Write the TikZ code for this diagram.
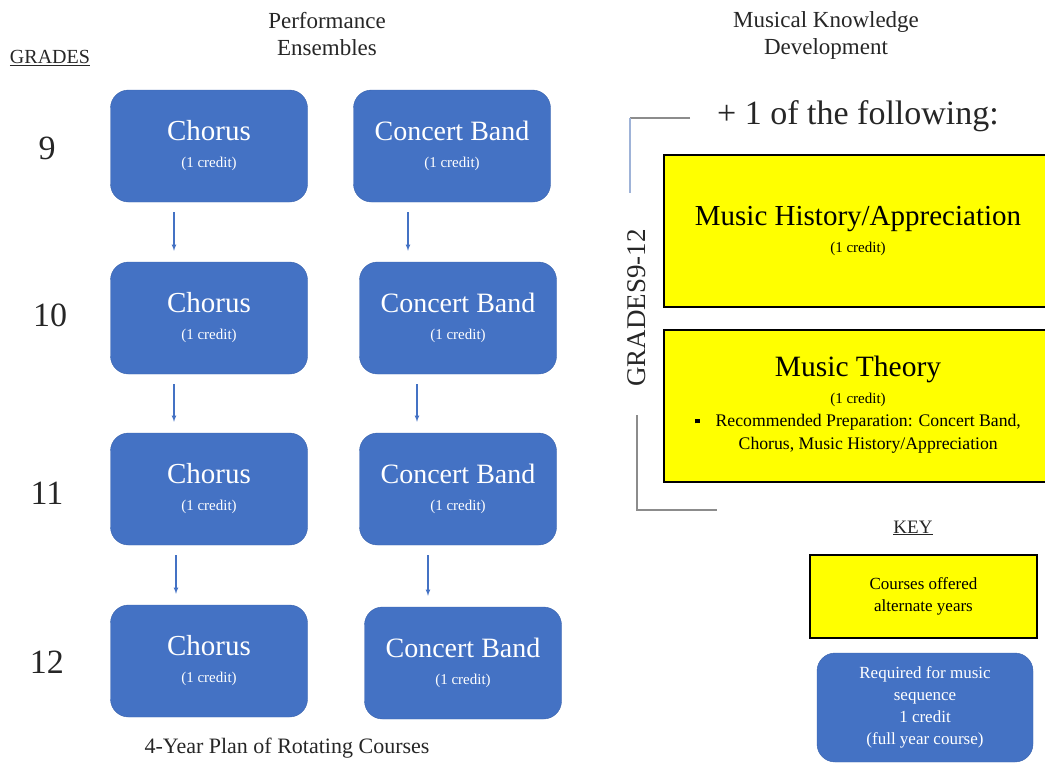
\documentclass[tikz,border=0pt]{standalone}
\usepackage{fontspec}
\setmainfont{Liberation Serif}
\usepackage{tikz}
\usetikzlibrary{shapes,arrows}
\usepackage{xcolor}

\definecolor{courseblue}{HTML}{4472C4}
\definecolor{courseedge}{HTML}{3A63AD}
\definecolor{altyellow}{HTML}{FFFF00}
\definecolor{bracketgrey}{HTML}{8C8C8C}
\definecolor{bracketblue}{HTML}{9FB3D8}
\definecolor{headgrey}{HTML}{262626}

\newcommand{\fsz}[2]{\fontsize{#1}{#2}\selectfont}

\begin{document}
\begin{tikzpicture}[x=1pt,y=-1pt,
					course/.style={draw=courseedge, fill=courseblue, rounded corners=18pt, text=white, align=center,
						minimum width=197pt, minimum height=112pt, inner sep=0pt, font=\fsz{15}{27}},
					alternate/.style={draw=black, line width=1.3pt, fill=altyellow, text=black, align=center, inner sep=0pt},
					grade/.style={text=headgrey, font=\fsz{34}{34}},
					head/.style={text=headgrey, align=center, font=\fsz{23}{27}},
					seq/.style={courseblue, line width=1.1pt, -latex, shorten <=10pt, shorten >=11pt}]
    \useasboundingbox (0,0) rectangle (1045,764);
    \clip (0,0) rectangle (1045,764);
    % Place nodes
    \node [head] (perf) at (327,34){Performance\\Ensembles};
    \node [head] (know) at (826,35){Musical Knowledge\\Development};
    \node [text=headgrey, font=\fsz{20}{20}] (grades) at (50,58){\underline{GRADES}};
    \node [grade] (g9) at (47,148){9};
    \node [grade] (g10) at (50,315){10};
    \node [grade] (g11) at (47,493){11};
    \node [grade] (g12) at (47,662){12};

    \node [course] (c9) at (209,146){{\fsz{29}{29}Chorus}\\(1 credit)};
    \node [course] (c10) at (209,318){{\fsz{29}{29}Chorus}\\(1 credit)};
    \node [course] (c11) at (209,489){{\fsz{29}{29}Chorus}\\(1 credit)};
    \node [course] (c12) at (209,661){{\fsz{29}{29}Chorus}\\(1 credit)};

    \node [course] (b9) at (452,146){{\fsz{28}{28}Concert Band}\\(1 credit)};
    \node [course] (b10) at (458,318){{\fsz{28}{28}Concert Band}\\(1 credit)};
    \node [course] (b11) at (458,489){{\fsz{28}{28}Concert Band}\\(1 credit)};
    \node [course] (b12) at (463,663){{\fsz{28}{28}Concert Band}\\(1 credit)};

    \node [text=headgrey, font=\fsz{34}{34}] (plus) at (858,116){+ 1 of the following:};
    \node [alternate, minimum width=388pt, minimum height=152pt, font=\fsz{15}{27}] (hist) at (858,231){%
    	{\fsz{29}{29}Music History/Appreciation}\\(1 credit)};
    \node [alternate, minimum width=388pt, minimum height=152pt, font=\fsz{15}{27}] (theory) at (858,406){%
    	{\fsz{29.5}{29.5}Music Theory}\\(1 credit)\\[-4pt]
    	{\fsz{17.7}{23}\begin{tabular}[t]{@{}l@{\hspace{16pt}}c@{}}
    		\raisebox{3pt}{\rule{4.5pt}{4.5pt}} & Recommended Preparation: Concert Band,\\
    		& Chorus, Music History/Appreciation
    	\end{tabular}}};
    \node [rotate=90, text=headgrey, font=\fsz{27}{27}] (span) at (637,308){GRADES9-12};
    \coordinate (topA) at (690,118);
    \coordinate (topB) at (630,118);
    \coordinate (topC) at (630,193);
    \coordinate (botA) at (637,415);
    \coordinate (botB) at (637,510);
    \coordinate (botC) at (717,510);

    \node [text=headgrey, font=\fsz{19}{19}] (key) at (913,528){\underline{KEY}};
    \node [alternate, minimum width=227pt, minimum height=83pt, font=\fsz{17}{22}] (keyalt) at (923.5,596.5){%
    	Courses offered\\alternate years};
    \node [course, minimum width=216pt, minimum height=109pt, font=\fsz{17}{22}] (keyreq) at (925,707.5){%
    	Required for music\\sequence\\1 credit\\(full year course)};

    \node [text=headgrey, font=\fsz{22}{22}] (plan) at (287,748){4-Year Plan of Rotating Courses};

    % Draw edges
    \draw[seq] ([xshift=-35pt]c9.south) -- ([xshift=-35pt]c9.south |- c10.north);
    \draw[seq] ([xshift=-35pt]c10.south) -- ([xshift=-35pt]c10.south |- c11.north);
    \draw[seq] ([xshift=-33pt]c11.south) -- ([xshift=-33pt]c11.south |- c12.north);
    \draw[seq] ([xshift=-44pt]b9.south) -- ([xshift=-44pt]b9.south |- b10.north);
    \draw[seq] ([xshift=-41pt]b10.south) -- ([xshift=-41pt]b10.south |- b11.north);
    \draw[seq] ([xshift=-30pt]b11.south) -- ([xshift=-30pt]b11.south |- b12.north);
    \draw[bracketgrey, line width=1.2pt] (topA) -- (topB);
    \draw[bracketblue, line width=1.2pt] (topB) -- (topC);
    \draw[bracketgrey, line width=1.2pt] (botA) -- (botB) -- (botC);

\end{tikzpicture}
\end{document}
